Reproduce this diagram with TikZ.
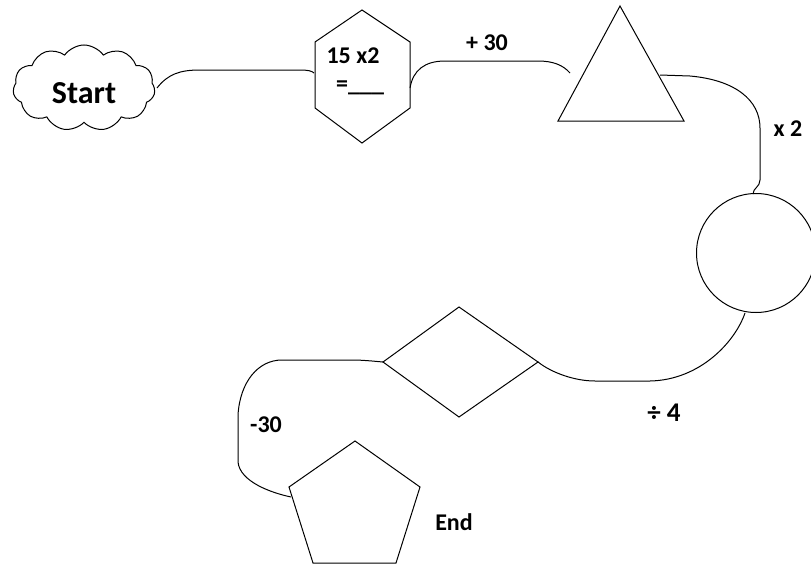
\documentclass[tikz,border=0pt]{standalone}
\usepackage{fontspec}
\setmainfont{Carlito}
\usetikzlibrary{shapes.symbols}
\begin{document}
\begin{tikzpicture}[x=1pt,y=-1pt,
  shapeline/.style={draw=black, line width=1pt, line join=miter},
  conn/.style={draw=black, line width=1pt},
  lbl/.style={font=\fontsize{24}{28}\selectfont\bfseries, inner sep=0pt, anchor=base}]
\useasboundingbox (0,0) rectangle (811,565);
% cloud
\node[cloud, shapeline, cloud puffs=11, cloud puff arc=110, aspect=1.65,
  minimum width=142pt, minimum height=86pt, inner sep=0pt] (start) at (84,88) {};
\node[lbl, font=\fontsize{32}{36}\selectfont\bfseries] (starttxt) at (84,103) {Start};
% hexagon
\coordinate (hexN) at (362,10);
\coordinate (hexNW) at (315,42);
\coordinate (hexSW) at (315,108);
\coordinate (hexS) at (362,143);
\coordinate (hexSE) at (410,108);
\coordinate (hexNE) at (410,42);
\draw[shapeline] (hexN) -- (hexNW) -- (hexSW) -- (hexS) -- (hexSE) -- (hexNE) -- cycle;
\node[lbl] (hextxt) at (353,63) {15 x2};
\node[lbl, anchor=base west] (hexeq) at (336,91) {=\_\_\_};
% triangle
\coordinate (triT) at (620,6);
\coordinate (triL) at (558,121);
\coordinate (triR) at (684,121);
\draw[shapeline] (triT) -- (triL) -- (triR) -- cycle;
% circle
\node[circle, shapeline, minimum size=119pt, inner sep=0pt] (circ) at (756,253) {};
% diamond
\coordinate (diaW) at (383,362);
\coordinate (diaN) at (459,307);
\coordinate (diaE) at (538,362);
\coordinate (diaS) at (459,417);
\draw[shapeline] (diaW) -- (diaN) -- (diaE) -- (diaS) -- cycle;
% pentagon
\coordinate (penT) at (355,441);
\coordinate (penL) at (289,487);
\coordinate (penR) at (420,487);
\coordinate (penBL) at (313,563);
\coordinate (penBR) at (396,563);
\draw[shapeline] (penT) -- (penR) -- (penBR) -- (penBL) -- (penL) -- cycle;
% labels
\node[lbl] (l30) at (487,50) {+ 30};
\node[lbl] (lx2) at (788,136) {x 2};
\node[lbl, font=\fontsize{27}{32}\selectfont\bfseries] (ldiv) at (664,421) {÷ 4};
\node[lbl] (lm30) at (266,432) {-30};
\node[lbl] (lend) at (454,530) {End};
% connector anchor coordinates
\coordinate (c1s) at (157,88);
\coordinate (hexW) at (314,73);
\coordinate (hexE) at (410,88);
\coordinate (c2e) at (570,73);
\coordinate (triE) at (660,75);
\coordinate (circN) at (753,194);
\coordinate (circS) at (745,313);
\coordinate (penW) at (291,497);
% connectors
\draw[conn] (c1s) .. controls (168,74) and (180,70) .. (200,70) -- (300,70) .. controls (308,70) and (312,71) .. (hexW);
\draw[conn] (hexE) .. controls (413,70) and (425,61) .. (445,61) -- (538,61) .. controls (553,61) and (563,65) .. (c2e);
\draw[conn] (triE) -- (690,76) .. controls (735,80) and (760,100) .. (760,128) -- (760,180) .. controls (760,187) and (753,188) .. (circN);
\draw[conn] (circS) .. controls (735,342) and (700,380) .. (650,381) -- (595,381) .. controls (575,381) and (552,373) .. (diaE);
\draw[conn] (diaW) .. controls (372,361) and (362,360) .. (352,360) -- (282,360) .. controls (258,360) and (240,382) .. (238,415) -- (238,462) .. controls (240,482) and (272,493) .. (penW);
\end{tikzpicture}
\end{document}
